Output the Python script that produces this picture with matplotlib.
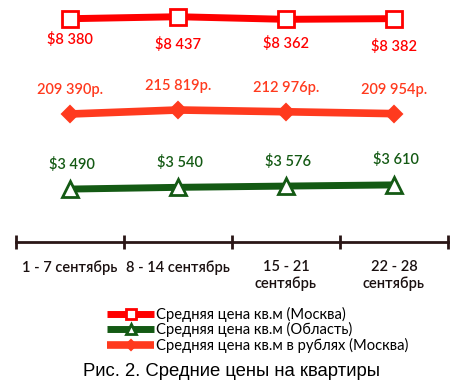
import matplotlib
matplotlib.use("Agg")
import matplotlib.pyplot as plt
from matplotlib.ticker import FixedLocator, NullFormatter

categories = ["1 - 7 сентябрь", "8 - 14 сентябрь", "15 - 21\nсентябрь", "22 - 28\nсентябрь"]
usd_moscow = [8380, 8437, 8362, 8382]
usd_oblast = [3490, 3540, 3576, 3610]
rub_moscow = [209390, 215819, 212976, 209954]

usd_moscow_labels = ["$8 380", "$8 437", "$8 362", "$8 382"]
usd_oblast_labels = ["$3 490", "$3 540", "$3 576", "$3 610"]
rub_moscow_labels = ["209 390р.", "215 819р.", "212 976р.", "209 954р."]

legend_labels = ["Средняя цена кв.м (Москва)",
                 "Средняя цена кв.м (Область)",
                 "Средняя цена кв.м в рублях (Москва)"]
caption = "Рис. 2. Средние цены на квартиры"

c_red = "#ff0000"
c_rub = "#ff3a1e"
c_green = "#145a14"
c_axis = "#2a1616"

fig = plt.figure(figsize=(4.6, 3.88), dpi=100)
W, H = 460, 388
ax = fig.add_axes([16 / W, (H - 242) / H, 432 / W, 242 / H])
ax.set_xlim(-0.5, 3.5)
ax.set_ylim(1971, 8917)
ax.patch.set_alpha(0)

x = list(range(len(categories)))
font = "Lato"

l1, = ax.plot(x, usd_moscow, color=c_red, lw=5, marker="s", ms=11,
              mfc="white", mec=c_red, mew=2, solid_capstyle="butt")
l2, = ax.plot(x, usd_oblast, color=c_green, lw=5, marker="^", ms=11,
              mfc="white", mec=c_green, mew=2, solid_capstyle="butt")

ax2 = ax.twinx()
ax2.set_ylim(4590, 391790)
ax2.axis("off")
l3, = ax2.plot(x, rub_moscow, color=c_rub, lw=5.5, marker="D", ms=8,
               mfc=c_rub, mec=c_rub, mew=1.5, solid_capstyle="butt")

usd_offsets = [-21, -28, -24, -28]
for xi, v, t, dy in zip(x, usd_moscow, usd_moscow_labels, usd_offsets):
    ax.annotate(t, (xi, v), xytext=(0, dy), textcoords="offset pixels",
                ha="center", va="center", color=c_red, fontsize=10.5,
                family=font, fontweight="semibold")
for xi, v, t in zip(x, usd_oblast, usd_oblast_labels):
    ax.annotate(t, (xi, v), xytext=(2, 25), textcoords="offset pixels",
                ha="center", va="center", color=c_green, fontsize=10.5,
                family=font, fontweight="semibold")
for xi, v, t in zip(x, rub_moscow, rub_moscow_labels):
    ax2.annotate(t, (xi, v), xytext=(0, 24), textcoords="offset pixels",
                 ha="center", va="center", color=c_rub, fontsize=10.5,
                 family=font, fontweight="semibold")

for s in ["top", "left", "right"]:
    ax.spines[s].set_visible(False)
ax.spines["bottom"].set_color(c_axis)
ax.spines["bottom"].set_linewidth(2)
ax.set_yticks([])
ax.xaxis.set_major_locator(FixedLocator([-0.5, 0.5, 1.5, 2.5, 3.5]))
ax.xaxis.set_major_formatter(NullFormatter())
ax.xaxis.set_minor_locator(FixedLocator(x))
ax.set_xticklabels(categories, minor=True)
ax.tick_params(axis="x", which="major", direction="inout", length=10,
               width=2, color=c_axis)
ax.tick_params(axis="x", which="minor", length=0, pad=13, labelsize=10.5,
               labelcolor="#1a1010")
for lab in ax.get_xticklabels(minor=True):
    lab.set_family(font)
    lab.set_fontweight("semibold")
    lab.set_va("top")
    lab.set_linespacing(1.2)

fig.legend([l1, l2, l3], legend_labels, loc="upper left",
           bbox_to_anchor=(107 / W, 1 - 307 / H), frameon=False,
           prop={"family": font, "size": 10.6}, handlelength=3.2,
           handletextpad=0.1, labelspacing=0.02, numpoints=1,
           markerscale=0.6, borderpad=0, borderaxespad=0)

fig.text(232 / W, 1 - 371 / H, caption, ha="center", va="center",
         fontsize=13.3, family="Liberation Sans", color="black")

fig.savefig("out.png", dpi=100)
